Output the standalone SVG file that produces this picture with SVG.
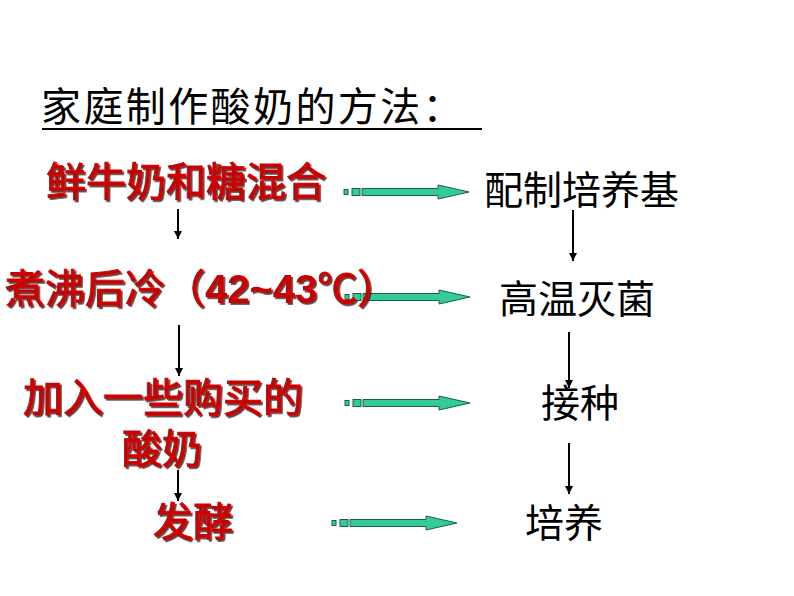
<svg xmlns="http://www.w3.org/2000/svg" width="794" height="596" viewBox="0 0 794 596">
<style>
.title{font-family:"Noto Sans CJK SC","Noto Sans",sans-serif;font-size:40px;fill:#000;letter-spacing:2.4px;font-weight:400}
.red{font-family:"Noto Sans CJK SC","Noto Sans",sans-serif;font-size:40px;fill:#cc0000;stroke:#cc0000;stroke-width:0.9px;font-weight:400;filter:url(#sh)}
.num{font-family:"Liberation Sans",Arial,sans-serif;font-weight:700;stroke-width:0}
.blk{font-family:"Noto Sans CJK SC","Noto Sans",sans-serif;font-size:39px;fill:#000;font-weight:400}
.vline{stroke:#000;stroke-width:2;fill:none;marker-end:url(#ah)}
.garrow{fill:#33cc99;stroke:#1d5e4a;stroke-width:1}
</style>
<defs>
<filter id="sh" x="-10%" y="-20%" width="130%" height="150%">
<feDropShadow dx="1.8" dy="1.8" stdDeviation="0.6" flood-color="#3a2020" flood-opacity="0.85"/>
</filter>
<marker id="ah" viewBox="0 0 10 10" refX="10" refY="5" markerWidth="4" markerHeight="4" orient="auto" markerUnits="strokeWidth">
<path d="M0,0 L10,5 L0,10 Z" fill="#000"/>
</marker>
<g id="garr">
<rect x="0" y="-2.5" width="4" height="5"/>
<rect x="8" y="-3.5" width="8" height="7"/>
<path d="M18,-3.5 H94 V-7 L125,0 L94,7 V3.5 H18 Z"/>
</g>
</defs>
<rect width="794" height="596" fill="#fff"/>

<g id="title">
<text class="title" x="41" y="121">家庭制作酸奶的方法：</text>
<line x1="42" y1="129" x2="482" y2="129" stroke="#000" stroke-width="2"/>
</g>

<g id="connectors">
<use href="#garr" class="garrow" x="344" y="192"/>
<use href="#garr" class="garrow" x="345" y="297"/>
<use href="#garr" class="garrow" x="345" y="403"/>
<use href="#garr" class="garrow" x="332" y="523"/>
<line class="vline" x1="178" y1="209" x2="178" y2="239"/>
<line class="vline" x1="179" y1="325" x2="179" y2="376"/>
<line class="vline" x1="178" y1="470" x2="178" y2="501"/>
<line class="vline" x1="573" y1="210" x2="573" y2="261"/>
<line class="vline" x1="569" y1="332" x2="569" y2="388"/>
<line class="vline" x1="569" y1="443" x2="569" y2="494"/>
</g>

<g id="n-left1"><text class="red" x="46" y="196">鲜牛奶和糖混合</text></g>
<g id="n-left2"><text class="red" x="5" y="303">煮沸后冷（<tspan class="num">42~43</tspan>℃）</text></g>
<g id="n-left3"><text class="red" x="23" y="412">加入一些购买的</text><text class="red" x="122" y="463">酸奶</text></g>
<g id="n-left4"><text class="red" x="153" y="536">发酵</text></g>

<g id="n-right1"><text class="blk" x="484" y="204">配制培养基</text></g>
<g id="n-right2"><text class="blk" x="499" y="313">高温灭菌</text></g>
<g id="n-right3"><text class="blk" x="541" y="417">接种</text></g>
<g id="n-right4"><text class="blk" x="525" y="537">培养</text></g>
</svg>
